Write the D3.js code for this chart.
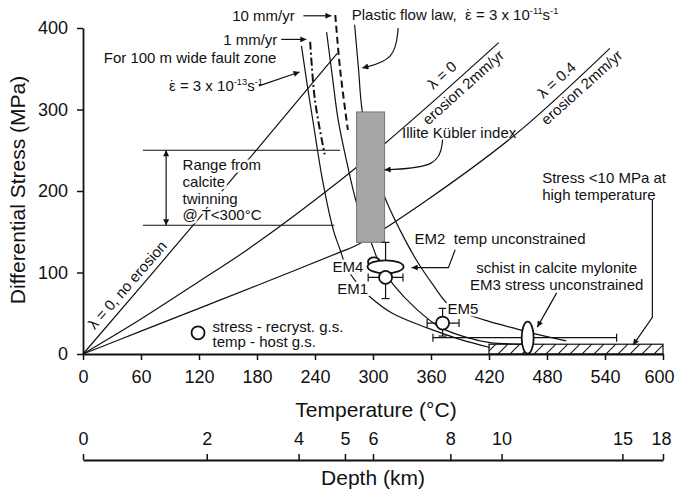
<!DOCTYPE html>
<html>
<head>
<meta charset="utf-8">
<script src="https://cdn.jsdelivr.net/npm/d3@7"></script>
<style>
body { margin: 0; background: #fff; }
svg text { font-family: "Liberation Sans", Arial, sans-serif; fill: #111; white-space: pre; }
</style>
</head>
<body>
<div id="chart"></div>
<script>
// axes
const tempTicks = [0, 60, 120, 180, 240, 300, 360, 420, 480, 540, 600]
const stressTicks = [0, 100, 200, 300, 400]
const depthKm = [0, 2, 4, 5, 6, 8, 10, 15, 18]
const depthTemp = [0, 128, 223, 271, 300, 380, 433, 558, 600]

// stress paths [T degC, stress MPa]
const lambda0NoErosion = [[0, 0], [114, 158], [263, 369]]
const lambda0Erosion = [[0, 0], [60, 43], [120, 89], [170, 128], [266, 213], [312, 258], [370, 318], [430, 382]]
const lambda04Erosion = [[0, 0], [60, 28], [120, 56], [180, 84], [266, 125], [284, 134], [356, 189], [449, 271], [545, 375]]

// flow law curves
const faultZone = [[226, 378], [232, 330], [238, 285], [248, 212], [259, 152], [266, 128], [272, 108], [284, 86], [297, 70], [320, 50], [356, 32], [390, 18], [421, 8]]
const rate1mm = [[235, 383], [240, 311], [250, 245]]
const flowMid = [[252, 395], [258, 340], [264, 287], [273, 235], [283, 185], [292, 155], [299, 134], [307, 110], [321, 85], [345, 55], [369, 33], [395, 21], [421, 14], [460, 12]]
const rate10mm = [[261, 416], [266, 349], [274, 275]]
const plasticFlow = [[281, 404], [285, 350], [289, 297], [300, 240], [312, 193], [328, 152], [345, 115], [362, 85], [377, 62], [395, 50], [420, 40], [445, 32], [470, 24], [500, 16]]

// calcite twinning range, illite bar, high T box
const twinRange = [158, 250]
const twinTemp = [[62, 260], [62, 266]]
const illiteTemp = [283, 312]
const illiteStress = [137, 297]
const hotBoxTemp = [420, 600]
const hotBoxStress = [0, 12]

// EM samples
const emCircleName = ['EM1', 'EM5']
const emCircleTemp = [313, 372]
const emCircleStress = [94, 38]
const emCircleTempErr = [[295, 331], [356, 389]]
const emCircleStressErr = [[68, 137], [22, 56]]
const em2 = [313, 107]
const em4 = [301, 113]
const em3 = [460, 20]
const em3TempErr = [362, 552]

const W = 676, H = 491
const x = d3.scaleLinear().domain([0, 600]).range([83, 663])
const y = d3.scaleLinear().domain([0, 400]).range([354, 28])
const depthScale = d3.scaleLinear().domain(depthKm).range(depthTemp.map(t => x(t)))
const depthY = 460

const svg = d3.select('#chart').append('svg')
    .attr('width', W)
    .attr('height', H)
const defs = svg.append('defs')
defs.append('marker')
    .attr('id', 'arrow')
    .attr('viewBox', '0 0 10 10')
    .attr('refX', 10).attr('refY', 5)
    .attr('markerWidth', 10).attr('markerHeight', 6)
    .attr('markerUnits', 'userSpaceOnUse')
    .attr('orient', 'auto-start-reverse')
    .append('path')
    .attr('d', 'M0,0 L10,5 L0,10 z')
    .attr('fill', '#111')
const hatch = defs.append('pattern')
    .attr('id', 'hatch')
    .attr('patternUnits', 'userSpaceOnUse')
    .attr('width', 12).attr('height', 12)
hatch.append('path')
    .attr('d', 'M-3,3 L3,-3 M0,12 L12,0 M9,15 L15,9')
    .attr('stroke', '#111')
    .attr('stroke-width', 1.1)

// axes
function styleAxis(g) {
    g.select('.domain').attr('stroke', '#111').attr('stroke-width', 1.8)
    g.selectAll('.tick line').attr('stroke', '#111').attr('stroke-width', 1.5)
    g.selectAll('.tick text').attr('font-size', 18).attr('fill', '#111')
        .attr('font-family', '"Liberation Sans", Arial, sans-serif')
}
const xAxisG = svg.append('g')
    .attr('transform', `translate(0,${y(0)})`)
    .call(d3.axisBottom(x).tickValues(tempTicks).tickSize(6).tickPadding(10).tickSizeOuter(0))
    .call(styleAxis)
xAxisG.selectAll('.tick text').filter(d => d === 600).attr('dx', -4)
svg.append('g')
    .attr('transform', `translate(${x(0)},0)`)
    .call(d3.axisLeft(y).tickValues(stressTicks).tickSize(6).tickPadding(9).tickSizeOuter(0))
    .call(styleAxis)
const depthG = svg.append('g')
    .attr('transform', `translate(0,${depthY})`)
    .call(d3.axisTop(depthScale).tickValues(depthKm).tickSize(6).tickPadding(9).tickSizeOuter(0))
    .call(styleAxis)
depthG.selectAll('.tick text').filter(d => d === 18).attr('dx', -2)

svg.append('text')
    .attr('transform', `translate(25,${y(200) - 1}) rotate(-90)`)
    .attr('text-anchor', 'middle')
    .attr('font-size', 21)
    .text('Differential Stress (MPa)')
svg.append('text')
    .attr('x', x(300) + 3).attr('y', 417)
    .attr('text-anchor', 'middle')
    .attr('font-size', 21)
    .text('Temperature (°C)')
svg.append('text')
    .attr('x', x(300)).attr('y', 485)
    .attr('text-anchor', 'middle')
    .attr('font-size', 21)
    .text('Depth (km)')

const plot = svg.append('g')
const line = d3.line()
    .x(d => x(d[0]))
    .y(d => y(d[1]))
    .curve(d3.curveCatmullRom.alpha(0.5))

function path(data, dash, width) {
    plot.append('path')
        .datum(data)
        .attr('d', line)
        .attr('fill', 'none')
        .attr('stroke', '#111')
        .attr('stroke-width', width || 1.2)
        .attr('stroke-dasharray', dash || null)
}
path(lambda0NoErosion)
path(lambda0Erosion)
path(lambda04Erosion)
path(faultZone)
path(flowMid)
path(plasticFlow)
path(rate1mm, '8,3,2,3', 2)
path(rate10mm, '7,4', 2)

// calcite twinning lines
twinRange.forEach((s, i) => {
    plot.append('line')
        .attr('x1', x(twinTemp[i][0])).attr('x2', x(twinTemp[i][1]))
        .attr('y1', y(s)).attr('y2', y(s))
        .attr('stroke', '#111').attr('stroke-width', 1.2)
})
plot.append('line')
    .attr('x1', x(86)).attr('x2', x(86))
    .attr('y1', y(twinRange[0])).attr('y2', y(twinRange[1]))
    .attr('stroke', '#111').attr('stroke-width', 1.2)
    .attr('marker-start', 'url(#arrow)')
    .attr('marker-end', 'url(#arrow)')

// illite bar
plot.append('rect')
    .attr('x', x(illiteTemp[0]))
    .attr('y', y(illiteStress[1]))
    .attr('width', x(illiteTemp[1]) - x(illiteTemp[0]))
    .attr('height', y(illiteStress[0]) - y(illiteStress[1]))
    .attr('fill', '#a6a6a6')
    .attr('stroke', '#777')
    .attr('stroke-width', 1)

// high temperature box
plot.append('rect')
    .attr('x', x(hotBoxTemp[0]))
    .attr('y', y(hotBoxStress[1]))
    .attr('width', x(hotBoxTemp[1]) - x(hotBoxTemp[0]))
    .attr('height', y(hotBoxStress[0]) - y(hotBoxStress[1]))
    .attr('fill', 'url(#hatch)')
    .attr('stroke', '#111')
    .attr('stroke-width', 1.2)

// text helper, parts: [string, 'sup' | 'dot' | 'after'?]
function label(t, s, parts, opts = {}) {
    const size = opts.size || 15
    const px = x(t), py = y(s) + size * 0.35
    const el = plot.append('text')
        .attr('x', px).attr('y', py)
        .attr('font-size', size)
        .attr('text-anchor', opts.anchor || 'start')
    if (opts.rotate) el.attr('transform', `rotate(${opts.rotate},${px},${py})`)
    if (opts.halo) el.attr('stroke', '#fff').attr('stroke-width', 5)
        .attr('stroke-linejoin', 'round').attr('paint-order', 'stroke')
    if (typeof parts === 'string') parts = [[parts]]
    let up = false
    parts.forEach(p => {
        const ts = el.append('tspan').text(p[0])
        if (p[1] === 'sup') {
            ts.attr('font-size', size * 0.62).attr('dy', up ? 0 : -size * 0.4)
            up = true
        } else if (p[1] === 'dot') {
            // dot above the preceding epsilon
            ts.attr('dx', -size * 0.39)
        } else if (p[1] === 'after') {
            ts.attr('dx', size * 0.06)
        } else if (up) {
            ts.attr('dy', size * 0.4)
            up = false
        }
    })
    return el
}
function arrow(points, curve) {
    const gen = d3.line().x(d => x(d[0])).y(d => y(d[1]))
    if (curve) gen.curve(d3.curveBasis)
    plot.append('path')
        .datum(points)
        .attr('d', gen)
        .attr('fill', 'none')
        .attr('stroke', '#111')
        .attr('stroke-width', 1.2)
        .attr('marker-end', 'url(#arrow)')
}

const epsDot = [['\u03B5'], ['\u02D9', 'dot']]
label(219, 415, '10 mm/yr', { anchor: 'end' })
arrow([[228, 415], [257, 415]])
label(201, 386, '1 mm/yr', { anchor: 'end' })
arrow([[205, 386], [231, 386]])
label(200, 363, 'For 100 m wide fault zone', { anchor: 'end' })
label(89, 329, [...epsDot, [' = 3 x 10', 'after'], ['-13', 'sup'], ['s'], ['-1', 'sup']])
arrow([[182, 329], [224, 346]])
label(278, 416, [['Plastic flow law,  '], ...epsDot, [' = 3 x 10', 'after'], ['-11', 'sup'], ['s'], ['-1', 'sup']])
arrow([[326, 400], [323, 361], [289, 351]], true)

label(375, 344, '\u03BB = 0', { anchor: 'middle', rotate: -42 })
label(397, 329, 'erosion 2mm/yr', { anchor: 'middle', rotate: -42 })
label(493.5, 338, '\u03BB = 0.4', { anchor: 'middle', rotate: -42 })
label(519.5, 329, 'erosion 2mm/yr', { anchor: 'middle', rotate: -42 })
label(50, 87, '\u03BB = 0, no erosion', { anchor: 'middle', rotate: -49 })

label(330, 271, 'Illite Kübler index')
arrow([[372, 263], [369, 229], [312, 226]], true)

label(103, 232, 'Range from', { halo: true })
label(103, 211, 'calcite', { halo: true })
label(103, 191, 'twinning', { halo: true })
label(103, 171, '@ T\u0301<300\u00B0C', { halo: true })

label(475, 216, 'Stress <10 MPa at')
label(475, 195, 'high temperature')
arrow([[589, 189], [589, 45], [569, 11]])

label(343, 142, 'EM2  temp unconstrained')
arrow([[385, 128], [378, 106], [340, 106]])
label(490, 106, 'schist in calcite mylonite', { anchor: 'middle' })
label(490, 85, 'EM3 stress unconstrained', { anchor: 'middle' })
arrow([[490, 75], [470, 33]])

// legend
plot.append('circle')
    .attr('cx', x(119)).attr('cy', y(26)).attr('r', 6.5)
    .attr('fill', '#fff').attr('stroke', '#111').attr('stroke-width', 1.8)
label(134, 34, 'stress - recryst. g.s.')
label(134, 15, 'temp - host g.s.')

// error bars
function errBar(x1, y1, x2, y2) {
    plot.append('line')
        .attr('x1', x1).attr('y1', y1).attr('x2', x2).attr('y2', y2)
        .attr('stroke', '#111').attr('stroke-width', 1.2)
}
function hBar(t0, t1, s) {
    errBar(x(t0), y(s), x(t1), y(s))
    errBar(x(t0), y(s) - 4, x(t0), y(s) + 4)
    errBar(x(t1), y(s) - 4, x(t1), y(s) + 4)
}
function vBar(t, s0, s1) {
    errBar(x(t), y(s0), x(t), y(s1))
    errBar(x(t) - 4, y(s0), x(t) + 4, y(s0))
    errBar(x(t) - 4, y(s1), x(t) + 4, y(s1))
}
emCircleName.forEach((n, i) => {
    hBar(emCircleTempErr[i][0], emCircleTempErr[i][1], emCircleStress[i])
    vBar(emCircleTemp[i], emCircleStressErr[i][0], emCircleStressErr[i][1])
})
hBar(em3TempErr[0], em3TempErr[1], em3[1])

function ellipse(p, rx, ry) {
    plot.append('ellipse')
        .attr('cx', x(p[0])).attr('cy', y(p[1]))
        .attr('rx', rx).attr('ry', ry)
        .attr('fill', '#fff').attr('stroke', '#111').attr('stroke-width', 1.8)
}
ellipse(em4, 6, 4.5)
ellipse(em2, 18, 6.5)
ellipse(em3, 6, 16)
emCircleName.forEach((n, i) => {
    plot.append('circle')
        .attr('cx', x(emCircleTemp[i])).attr('cy', y(emCircleStress[i])).attr('r', 6.5)
        .attr('fill', '#fff').attr('stroke', '#111').attr('stroke-width', 1.8)
})
label(290, 107, 'EM4', { anchor: 'end', halo: true })
label(295, 80, 'EM1', { anchor: 'end', halo: true })
label(377, 56, 'EM5', { halo: true })
</script>
</body>
</html>
